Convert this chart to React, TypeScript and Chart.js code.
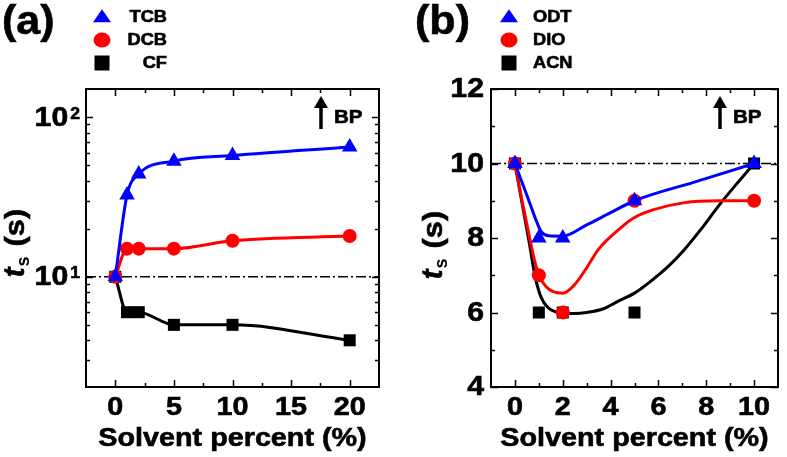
import React, { useEffect, useRef } from "react";
import { Chart, registerables } from "chart.js";

Chart.register(...registerables);

const BLUE = "#0000ff";
const RED = "#ff0000";
const BLACK = "#000000";
const FONT = '"Liberation Sans", Arial, sans-serif';

// ---------------- panel (a) ----------------
const aPercent = [0, 1, 2, 5, 10, 20];
const aTCB = [10, 32.5, 44, 53, 57.5, 65];
const aDCB = [10, 15, 15, 15, 16.8, 18];
const aCF = [10, 6, 6, 5, 5, 4];
const aNames = ["TCB", "DCB", "CF"];
const aXRange = [-2.5, 22.5];
const aYRange = [2.04, 150];
const aXTicks = [0, 5, 10, 15, 20];
const aXMinor = [2.5, 7.5, 12.5, 17.5];
const aYTicks = [10, 100];
const aYTickBase = ["10", "10"];
const aYTickExp = ["1", "2"];
const aYMinor = [3, 4, 5, 6, 7, 8, 9, 20, 30, 40, 50, 60, 70, 80, 90];

// ---------------- panel (b) ----------------
const bPercent = [0, 1, 2, 5, 10];
const bODT = [10, 8, 8, 9, 10];
const bDIO = [10, 7, 6, 9, 9];
const bACN = [10, 6, 6, 6, 10];
const bNames = ["ODT", "DIO", "ACN"];
const bODTFitX = [0, 0.5, 0.9, 1.1, 1.4, 2, 3, 4, 5, 7.5, 10];
const bODTFitY = [10, 9.15, 8.45, 8.17, 8.06, 8.05, 8.35, 8.68, 9.0, 9.5, 10];
const bDIOFitX = [0, 0.3, 0.6, 0.8, 1, 1.3, 1.6, 2, 2.5, 3, 3.5, 4.4, 5, 5.8, 7.1, 8.5, 10];
const bDIOFitY = [10, 9.0, 8.05, 7.45, 7.0, 6.7, 6.56, 6.52, 6.75, 7.2, 7.7, 8.26, 8.55, 8.76, 8.95, 9.0, 9.0];
const bACNFitX = [0, 0.3, 0.6, 0.85, 1.1, 1.4, 1.7, 2, 2.5, 3, 3.7, 4.3, 5, 5.7, 6.4, 7.1, 7.8, 8.5, 9.2, 10];
const bACNFitY = [10, 8.93, 7.87, 6.95, 6.4, 6.12, 6.02, 5.98, 5.97, 6.0, 6.1, 6.3, 6.52, 6.85, 7.23, 7.7, 8.25, 8.85, 9.4, 10];
const bXRange = [-1, 11];
const bYRange = [4, 12];
const bXTicks = [0, 2, 4, 6, 8, 10];
const bXMinor = [1, 3, 5, 7, 9];
const bYTicks = [4, 6, 8, 10, 12];
const bYMinor = [5, 7, 9, 11];

const REF_LEVEL = 10;

type Shape = "triangle" | "circle" | "square";
const SHAPES: Shape[] = ["triangle", "circle", "square"];
const COLORS = [BLUE, RED, BLACK];

const xy = (xs: number[], ys: number[]) => xs.map((x, i) => ({ x, y: ys[i] }));

function txt(
  ctx: CanvasRenderingContext2D,
  s: string,
  x: number,
  y: number,
  font: string,
  align: "left" | "center" | "right",
  baseline: CanvasTextBaseline,
  sx = 1.12
) {
  ctx.save();
  ctx.font = font;
  ctx.textBaseline = baseline;
  ctx.textAlign = "left";
  ctx.fillStyle = "#000";
  ctx.strokeStyle = "#000";
  ctx.lineWidth = 0.6;
  const w = ctx.measureText(s).width * sx;
  const x0 = align === "center" ? x - w / 2 : align === "right" ? x - w : x;
  ctx.translate(x0, y);
  ctx.scale(sx, 1);
  ctx.fillText(s, 0, 0);
  ctx.strokeText(s, 0, 0);
  ctx.restore();
  return w;
}

function drawMark(ctx: CanvasRenderingContext2D, shape: Shape, x: number, y: number, color: string, w: number, h: number) {
  ctx.save();
  ctx.fillStyle = color;
  ctx.beginPath();
  if (shape === "triangle") {
    ctx.moveTo(x, y - h * 0.6);
    ctx.lineTo(x + w / 2, y + h * 0.4);
    ctx.lineTo(x - w / 2, y + h * 0.4);
    ctx.closePath();
  } else if (shape === "circle") {
    ctx.ellipse(x, y, w / 2, h / 2, 0, 0, Math.PI * 2);
  } else {
    ctx.rect(x - w / 2, y - h / 2, w, h);
  }
  ctx.fill();
  ctx.restore();
}

type Deco = {
  panel: string;
  panelX: number;
  xTicks: number[];
  xMinor: number[];
  yTicks: number[];
  yMinor: number[];
  yBase?: string[];
  yExp?: string[];
  names: string[];
  legendMarkX: number;
  legendTextX: number;
  legendAlign: "left" | "right";
  yTitleX: number;
  yTitleC: number;
};

function makeDeco(d: Deco) {
  return {
    id: "deco",
    afterDraw(chart: any) {
      const ctx: CanvasRenderingContext2D = chart.ctx;
      const { left, right, top, bottom } = chart.chartArea;
      const xs = chart.scales.x;
      const ys = chart.scales.y;
      ctx.save();
      // frame
      ctx.strokeStyle = "#000";
      ctx.lineWidth = 2;
      ctx.strokeRect(left, top, right - left, bottom - top);
      // ticks
      ctx.lineWidth = 1.5;
      const xt = (v: number, len: number) => {
        const p = Math.round(xs.getPixelForValue(v)) + 0.5;
        ctx.beginPath();
        ctx.moveTo(p, bottom);
        ctx.lineTo(p, bottom - len);
        ctx.moveTo(p, top);
        ctx.lineTo(p, top + len);
        ctx.stroke();
      };
      const yt = (v: number, len: number) => {
        const p = Math.round(ys.getPixelForValue(v)) + 0.5;
        ctx.beginPath();
        ctx.moveTo(left, p);
        ctx.lineTo(left + len, p);
        ctx.moveTo(right, p);
        ctx.lineTo(right - len, p);
        ctx.stroke();
      };
      d.xTicks.forEach((v) => xt(v, 7));
      d.xMinor.forEach((v) => xt(v, 4));
      d.yTicks.forEach((v) => yt(v, 7));
      d.yMinor.forEach((v) => yt(v, 4));

      // tick labels
      const tickFont = `bold 25px ${FONT}`;
      d.xTicks.forEach((v) => {
        txt(ctx, String(v), xs.getPixelForValue(v), bottom + 21, tickFont, "center", "middle", 1.15);
      });
      d.yTicks.forEach((v, i) => {
        const py = ys.getPixelForValue(v);
        if (d.yExp && d.yBase) {
          const supFont = `bold 16px ${FONT}`;
          ctx.font = supFont;
          const ws = ctx.measureText(d.yExp[i]).width * 1.1;
          txt(ctx, d.yExp[i], left - 6, py - 11, supFont, "right", "top", 1.1);
          txt(ctx, d.yBase[i], left - 8 - ws, py + 1, `bold 27px ${FONT}`, "right", "middle", 1.12);
        } else {
          txt(ctx, String(v), left - 7, py + 1, `bold 27px ${FONT}`, "right", "middle", 1.12);
        }
      });

      // x title
      txt(ctx, "Solvent percent (%)", (left + right) / 2, bottom + 52, `bold 25px ${FONT}`, "center", "middle", 1.15);

      // y title (rotated, t italic with subscript s)
      ctx.save();
      ctx.translate(d.yTitleX, d.yTitleC);
      ctx.rotate(-Math.PI / 2);
      ctx.fillStyle = "#000";
      ctx.strokeStyle = "#000";
      ctx.lineWidth = 0.6;
      ctx.textAlign = "left";
      ctx.textBaseline = "alphabetic";
      const f1 = `italic bold 29px ${FONT}`;
      const f2 = `bold 18px ${FONT}`;
      const f3 = `bold 28px ${FONT}`;
      ctx.font = f1;
      const w1 = ctx.measureText("t").width;
      ctx.font = f2;
      const w2 = ctx.measureText("s").width;
      ctx.font = f3;
      const w3 = ctx.measureText("(s)").width * 1.1;
      const gap = 10;
      const total = w1 + 1 + w2 + gap + w3;
      let cx = -total / 2;
      ctx.font = f1;
      ctx.fillText("t", cx, 0);
      ctx.strokeText("t", cx, 0);
      cx += w1 + 1;
      ctx.font = f2;
      ctx.fillText("s", cx, 5);
      cx += w2 + gap;
      ctx.font = f3;
      ctx.save();
      ctx.translate(cx, 0);
      ctx.scale(1.1, 1);
      ctx.fillText("(s)", 0, 0);
      ctx.strokeText("(s)", 0, 0);
      ctx.restore();
      ctx.restore();

      // BP arrow
      const ax = right - 58;
      ctx.strokeStyle = "#000";
      ctx.fillStyle = "#000";
      ctx.lineWidth = 3.5;
      ctx.beginPath();
      ctx.moveTo(ax, top + 40);
      ctx.lineTo(ax, top + 16);
      ctx.stroke();
      ctx.beginPath();
      ctx.moveTo(ax, top + 7);
      ctx.lineTo(ax + 7, top + 19);
      ctx.lineTo(ax - 7, top + 19);
      ctx.closePath();
      ctx.fill();
      txt(ctx, "BP", right - 45, top + 29, `bold 19px ${FONT}`, "left", "middle", 1.08);

      // legend
      const rows = [17, 40, 63];
      const sizes: [number, number][] = [
        [18, 13],
        [17, 15],
        [15, 15],
      ];
      d.names.forEach((n, i) => {
        drawMark(ctx, SHAPES[i], d.legendMarkX, rows[i], COLORS[i], sizes[i][0], sizes[i][1]);
        txt(ctx, n, d.legendTextX, rows[i] + 1, `bold 16px ${FONT}`, d.legendAlign, "middle", 1.14);
      });

      // panel label
      txt(ctx, d.panel, d.panelX, 34, `bold 41px ${FONT}`, "left", "alphabetic", 1.05);
      ctx.restore();
    },
  };
}

function baseScales(xr: number[], yr: number[], yType: string, yWidth: number) {
  return {
    x: {
      type: "linear",
      min: xr[0],
      max: xr[1],
      ticks: { display: false },
      grid: { display: false, drawTicks: false },
      border: { display: false },
      afterFit: (s: any) => {
        s.height = 70;
      },
    },
    y: {
      type: yType,
      min: yr[0],
      max: yr[1],
      ticks: { display: false },
      grid: { display: false, drawTicks: false },
      border: { display: false },
      afterFit: (s: any) => {
        s.width = yWidth;
      },
    },
  };
}

const series = (label: string, data: any[], color: string, shape: string, radius: number, showLine: boolean) => ({
  label,
  data,
  borderColor: color,
  backgroundColor: color,
  borderWidth: 3,
  pointStyle: shape,
  pointRadius: radius,
  pointBorderWidth: 0,
  pointHoverRadius: radius,
  showLine,
  fill: false,
  cubicInterpolationMode: "monotone",
});

const pointRadius = (shape: string) => (shape === "triangle" ? 9 : shape === "circle" ? 7 : 8.5);

function refLine(xr: number[]) {
  return {
    label: "ref",
    data: [
      { x: xr[0], y: REF_LEVEL },
      { x: xr[1], y: REF_LEVEL },
    ],
    borderColor: BLACK,
    borderWidth: 1.5,
    borderDash: [10, 3, 2, 3],
    pointRadius: 0,
    fill: false,
  };
}

function configA(): any {
  return {
    type: "line",
    data: {
      datasets: [
        series(aNames[0], xy(aPercent, aTCB), BLUE, "triangle", pointRadius("triangle"), true),
        series(aNames[1], xy(aPercent, aDCB), RED, "circle", pointRadius("circle"), true),
        series(aNames[2], xy(aPercent, aCF), BLACK, "rect", pointRadius("rect"), true),
        refLine(aXRange),
      ],
    },
    options: {
      responsive: false,
      maintainAspectRatio: false,
      animation: false,
      layout: { padding: { top: 89, right: 14, left: 0, bottom: 0 } },
      scales: baseScales(aXRange, aYRange, "logarithmic", 86),
      plugins: { legend: { display: false }, tooltip: { enabled: false } },
    },
    plugins: [
      makeDeco({
        panel: "(a)",
        panelX: 2,
        xTicks: aXTicks,
        xMinor: aXMinor,
        yTicks: aYTicks,
        yMinor: aYMinor,
        yBase: aYTickBase,
        yExp: aYTickExp,
        names: aNames,
        legendMarkX: 102,
        legendTextX: 167,
        legendAlign: "right",
        yTitleX: 24,
        yTitleC: 243,
      }),
    ],
  };
}

function configB(): any {
  return {
    type: "line",
    data: {
      datasets: [
        series(bNames[0], xy(bPercent, bODT), BLUE, "triangle", pointRadius("triangle"), false),
        series(bNames[0] + " fit", xy(bODTFitX, bODTFitY), BLUE, "triangle", 0, true),
        series(bNames[1], xy(bPercent, bDIO), RED, "circle", pointRadius("circle"), false),
        series(bNames[1] + " fit", xy(bDIOFitX, bDIOFitY), RED, "circle", 0, true),
        series(bNames[2], xy(bPercent, bACN), BLACK, "rect", pointRadius("rect"), false),
        series(bNames[2] + " fit", xy(bACNFitX, bACNFitY), BLACK, "rect", 0, true),
        refLine(bXRange),
      ],
    },
    options: {
      responsive: false,
      maintainAspectRatio: false,
      animation: false,
      layout: { padding: { top: 89, right: 3, left: 0, bottom: 0 } },
      scales: baseScales(bXRange, bYRange, "linear", 98),
      plugins: { legend: { display: false }, tooltip: { enabled: false } },
    },
    plugins: [
      makeDeco({
        panel: "(b)",
        panelX: 22,
        xTicks: bXTicks,
        xMinor: bXMinor,
        yTicks: bYTicks,
        yMinor: bYMinor,
        names: bNames,
        legendMarkX: 116,
        legendTextX: 140,
        legendAlign: "left",
        yTitleX: 49,
        yTitleC: 245,
      }),
    ],
  };
}

function Panel({ make, left, width }: { make: () => any; left: number; width: number }) {
  const ref = useRef<HTMLCanvasElement>(null);
  useEffect(() => {
    const chart = new Chart(ref.current as HTMLCanvasElement, make());
    return () => chart.destroy();
  }, []);
  return (
    <div style={{ position: "absolute", left, top: 0, width, height: 457 }}>
      <canvas ref={ref} width={width} height={457} style={{ display: "block" }} />
    </div>
  );
}

export default function App() {
  return (
    <div style={{ position: "absolute", left: 0, top: 0, width: 787, height: 457, background: "#fff", overflow: "hidden" }}>
      <Panel make={configA} left={0} width={393} />
      <Panel make={configB} left={393} width={394} />
    </div>
  );
}
